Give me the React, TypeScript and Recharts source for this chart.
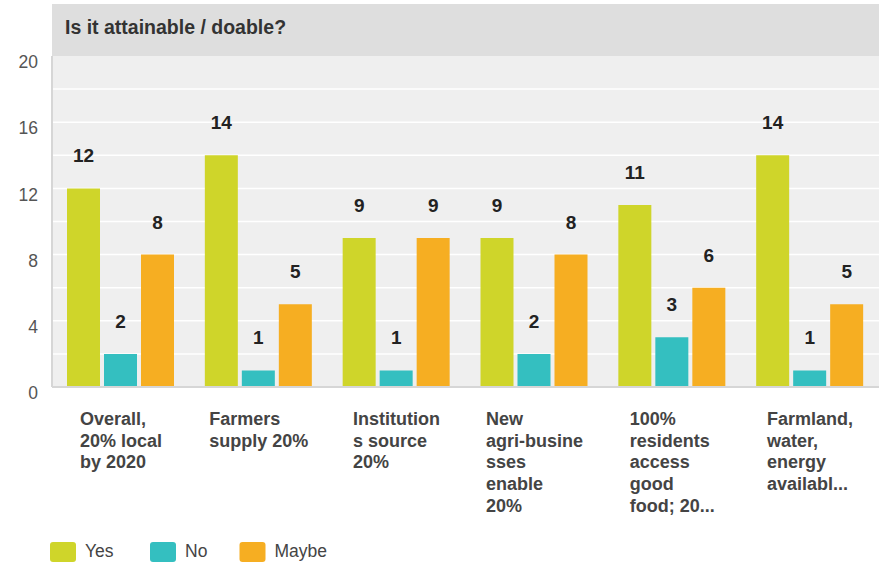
import React from 'react';
import { BarChart, Bar, XAxis, YAxis, CartesianGrid, LabelList } from 'recharts';

const title = 'Is it attainable / doable?';
const categories = [
  'Overall,\n20% local\nby 2020',
  'Farmers\nsupply 20%',
  'Institution\ns source\n20%',
  'New\nagri-busine\nsses\nenable\n20%',
  '100%\nresidents\naccess\ngood\nfood; 20...',
  'Farmland,\nwater,\nenergy\navailabl...',
];
const yesValues = [12, 14, 9, 9, 11, 14];
const noValues = [2, 1, 1, 2, 3, 1];
const maybeValues = [8, 5, 9, 8, 6, 5];
const seriesNames = ['Yes', 'No', 'Maybe'];
const seriesKeys = ['yes', 'no', 'maybe'];
const seriesColors = ['#cfd52a', '#34bfc0', '#f6ae22'];
const yTicks = [0, 2, 4, 6, 8, 10, 12, 14, 16, 18, 20];
const gridValues = [2, 4, 6, 8, 10, 12, 14, 16, 18];
const yLabelStep = 4;

const FONT = "'Liberation Sans', Arial, Helvetica, sans-serif";
const W = 884;
const H = 564;

const data = categories.map((c, i) => ({
  name: c,
  yes: yesValues[i],
  no: noValues[i],
  maybe: maybeValues[i],
}));

let ctx: CanvasRenderingContext2D | null = null;
function measure(text: string, font: string): number {
  if (!ctx) {
    const c = document.createElement('canvas');
    ctx = c.getContext('2d');
  }
  if (!ctx) return text.length * 10;
  ctx.font = font;
  return ctx.measureText(text).width;
}

const XTick = (props: any) => {
  const { x, y, payload } = props;
  const lines = String(payload.value).split('\n');
  const font = `bold 18px ${FONT}`;
  const w = Math.max(...lines.map((l) => measure(l, font)));
  const left = x - w / 2;
  return (
    <text x={left} y={y} fontFamily={FONT} fontWeight="bold" fontSize={18} fill="#444" textAnchor="start">
      {lines.map((l, i) => (
        <tspan key={i} x={left} dy={i === 0 ? 38 : 21.7}>
          {l}
        </tspan>
      ))}
    </text>
  );
};

const YTick = (props: any) => {
  const { x, y, payload } = props;
  if (payload.value % yLabelStep !== 0) return null;
  return (
    <text x={x} y={y + 6} dy="0.35em" textAnchor="end" fontFamily={FONT} fontSize={17.5} fill="#555">
      {payload.value}
    </text>
  );
};

const labelStyle = { fontFamily: FONT, fontWeight: 'bold', fontSize: 19, fill: '#222' } as any;

export default function App() {
  const legendX = [50, 150, 239.5];
  return (
    <div style={{ position: 'absolute', left: 0, top: 0, width: W, height: H, background: '#fff' }}>
      <svg width={W} height={H} style={{ position: 'absolute', left: 0, top: 0 }}>
        <rect x={52} y={4} width={827} height={53} fill="#dedede" />
        <text x={65} y={34} fontFamily={FONT} fontWeight="bold" fontSize={19.5} fill="#333">
          {title}
        </text>
        {seriesNames.map((n, i) => (
          <g key={n}>
            <rect x={legendX[i]} y={542} width={26} height={20} rx={3} fill={seriesColors[i]} />
            <text x={legendX[i] + 35} y={557} fontFamily={FONT} fontSize={17.5} fill="#444">
              {n}
            </text>
          </g>
        ))}
      </svg>
      <div style={{ position: 'absolute', left: 0, top: 0 }}>
        <BarChart
          width={W}
          height={H}
          data={data}
          margin={{ top: 56, right: 5, left: 0, bottom: 0 }}
          barCategoryGap={15}
          barGap={4}
        >
          <CartesianGrid
            vertical={false}
            stroke="#ffffff"
            strokeWidth={1.5}
            fill="#efefef"
            horizontalValues={gridValues}
          />
          <XAxis
            dataKey="name"
            height={177}
            interval={0}
            tickLine={false}
            tickSize={0}
            tickMargin={0}
            axisLine={{ stroke: '#d6d6d6', strokeWidth: 2 }}
            tick={<XTick />}
          />
          <YAxis
            width={52}
            domain={[0, 20]}
            ticks={yTicks}
            interval={0}
            tickLine={false}
            tickSize={0}
            tickMargin={14}
            axisLine={{ stroke: '#d6d6d6', strokeWidth: 2 }}
            tick={<YTick />}
          />
          {seriesKeys.map((k, i) => (
            <Bar key={k} dataKey={k} name={seriesNames[i]} fill={seriesColors[i]} isAnimationActive={false}>
              <LabelList dataKey={k} position="top" offset={26} style={labelStyle} />
            </Bar>
          ))}
        </BarChart>
      </div>
    </div>
  );
}
